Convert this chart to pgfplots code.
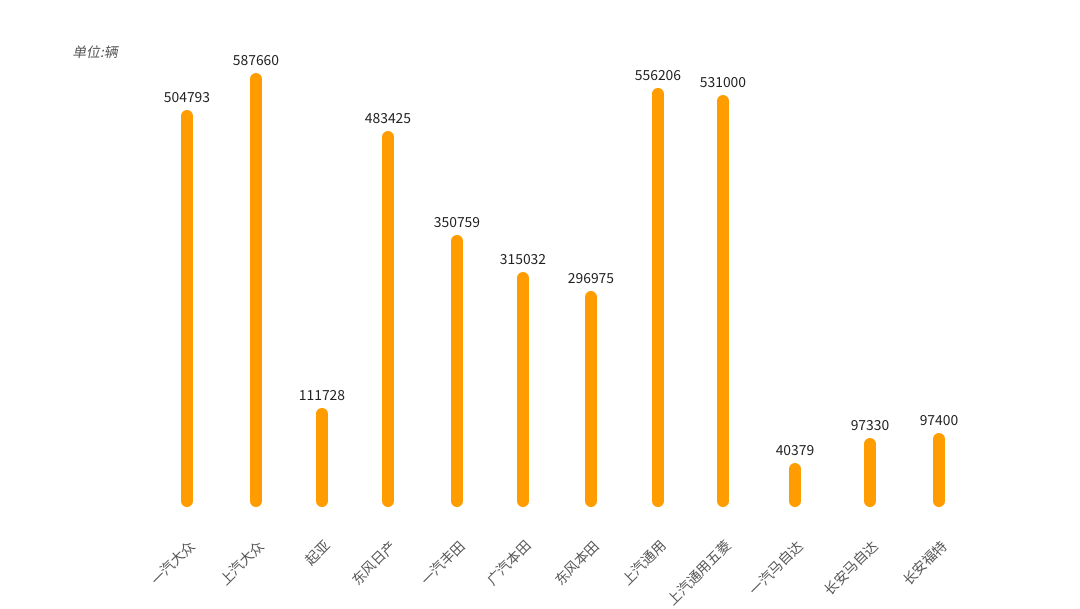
\documentclass[border=0pt]{standalone}
\usepackage{fontspec}
\setmainfont{Noto Sans CJK SC}
\newfontfamily\cjkit[FakeSlant=0.2]{Noto Sans CJK SC}
\usepackage{pgfplots}
\usepackage{pgfplotstable}
\pgfplotsset{compat=1.18}
\definecolor{barorange}{HTML}{FF9C00}
\definecolor{labgray}{HTML}{555555}
\definecolor{numdark}{HTML}{222222}

% x: bar centre, h: drawn bar height, label: printed value
\pgfplotstableread{
x   h      label
187 536100 504793
256 587660 587660
322 121200 111728
388 506900 483425
457 362100 350759
523 310500 315032
591 284100 296975
658 566800 556206
723 557000 531000
795 44560  40379
870 79380  97330
939 86340  97400
}\sales

\begin{document}
\begin{tikzpicture}
\useasboundingbox (0,-80.25pt) rectangle (810pt,375.75pt);
\begin{axis}[
  at={(0,0)}, anchor=south west,
  scale only axis, width=810pt, height=375.75pt,
  xmin=0, xmax=1080, ymin=0, ymax=697673,
  clip=false,
  axis line style={draw=none},
  tick style={draw=none},
  ytick=\empty,
  xtick={187,256,322,388,457,523,591,658,723,795,870,939},
  xticklabels={一汽大众,上汽大众,起亚,东风日产,一汽丰田,广汽本田,东风本田,上汽通用,上汽通用五菱,一汽马自达,长安马自达,长安福特},
  xticklabel style={xshift=5pt, rotate=45, anchor=east, font=\fontsize{10.4}{12}\selectfont, text=labgray, inner sep=1pt},
  xticklabel shift=31pt,
]
\addplot[ycomb, draw=barorange, line width=9pt, line cap=round,
  point meta=explicit symbolic,
  nodes near coords,
  nodes near coords style={anchor=center, yshift=14pt, font=\fontsize{10.4}{12}\selectfont, text=numdark}]
  table[x=x, y=h, meta=label] {\sales};
\end{axis}
\node[anchor=west, text=labgray, font=\fontsize{10.4}{12}\cjkit, inner sep=0pt] at (54pt,336.75pt) {单位:辆};
\end{tikzpicture}
\end{document}
